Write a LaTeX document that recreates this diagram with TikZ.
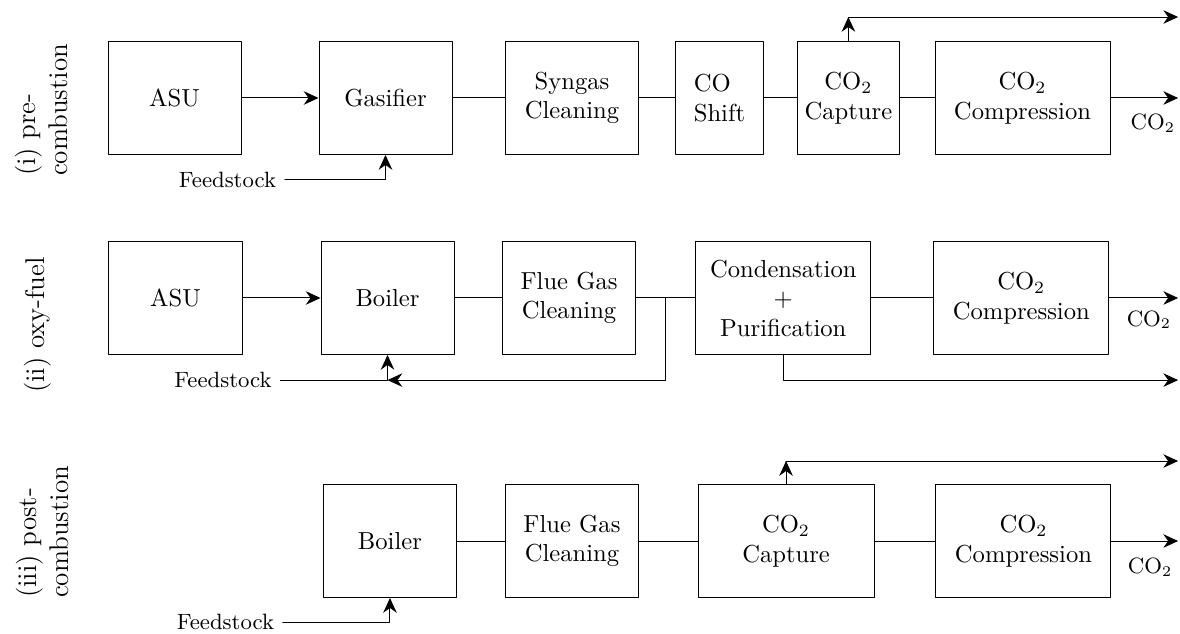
\documentclass[tikz,border=0pt]{standalone}
\usetikzlibrary{arrows.meta}
\begin{document}
\begin{tikzpicture}[line cap=round,line join=round,>={Stealth[length=6pt,width=5.5pt]},
  blk/.style={draw,minimum width=1.9cm,minimum height=1.614cm,align=center,inner sep=2pt},
  feed/.style={font=\small},
  lbl/.style={rotate=90,font=\fontsize{11}{13}\selectfont,align=left}]
\useasboundingbox (0,0) rectangle (16.857,-9.057);
% (i) pre-combustion
\node[lbl] (lab1) at (0.593,-1.571) {(i) pre-\\combustion};
\node[blk] (asu1) at (2.493,-1.4) {ASU};
\node[blk] (gas1) at (5.507,-1.4) {Gasifier};
\node[blk] (syn1) at (8.171,-1.4) {Syngas\\Cleaning};
\node[blk,minimum width=1.257cm,align=left] (shift1) at (10.279,-1.4) {CO\\Shift};
\node[blk,minimum width=1.447cm] (cap1) at (12.12,-1.4) {CO$_2$\\Capture};
\node[blk,minimum width=2.5cm] (comp1) at (14.607,-1.4) {CO$_2$\\Compression};
\node[feed] (fs1) at (3.25,-2.571) {Feedstock};
\node[feed] (co2a) at (16.47,-1.757) {CO$_2$};
\coordinate (out1) at (16.83,-1.4);
\coordinate (top1) at (16.83,-0.243);
\draw[->] (asu1) -- (gas1);
\draw (gas1) -- (syn1) (syn1) -- (shift1) (shift1) -- (cap1) (cap1) -- (comp1);
\draw[->] (comp1) -- (out1);
\draw[->] (fs1.east) -| (gas1.south);
\draw[->] (cap1.north) -- (cap1.north |- top1);
\draw[->] (cap1.north |- top1) -- (top1);
% (ii) oxy-fuel
\node[lbl] (lab2) at (0.543,-4.643) {(ii) oxy-fuel};
\node[blk] (asu2) at (2.507,-4.257) {ASU};
\node[blk] (boil2) at (5.536,-4.257) {Boiler};
\node[blk] (flue2) at (8.13,-4.257) {Flue Gas\\Cleaning};
\node[blk,minimum width=2.5cm] (cond2) at (11.19,-4.257) {Condensation\\$+$\\Purification};
\node[blk,minimum width=2.5cm] (comp2) at (14.59,-4.257) {CO$_2$\\Compression};
\node[feed] (fs2) at (3.186,-5.43) {Feedstock};
\node[feed] (co2b) at (16.414,-4.571) {CO$_2$};
\coordinate (rec2) at (9.514,-5.43);
\coordinate (out2) at (16.83,-4.257);
\coordinate (vent2) at (16.83,-5.43);
\draw[->] (asu2) -- (boil2);
\draw (boil2) -- (flue2) (flue2) -- (cond2) (cond2) -- (comp2);
\draw[->] (comp2) -- (out2);
\draw[->] (fs2.east) -| (boil2.south);
\draw[->] (rec2 |- flue2.east) -- (rec2) -- (rec2 -| boil2.south);
\draw[->] (cond2.south) |- (vent2);
% (iii) post-combustion
\node[lbl] (lab3) at (0.6,-7.6) {(iii) post-\\combustion};
\node[blk] (boil3) at (5.571,-7.729) {Boiler};
\node[blk] (flue3) at (8.171,-7.729) {Flue Gas\\Cleaning};
\node[blk,minimum width=2.514cm] (cap3) at (11.229,-7.729) {CO$_2$\\Capture};
\node[blk,minimum width=2.5cm] (comp3) at (14.621,-7.729) {CO$_2$\\Compression};
\node[feed] (fs3) at (3.221,-8.886) {Feedstock};
\node[feed] (co2c) at (16.43,-8.1) {CO$_2$};
\coordinate (out3) at (16.83,-7.729);
\coordinate (top3) at (16.83,-6.586);
\draw (boil3) -- (flue3) (flue3) -- (cap3) (cap3) -- (comp3);
\draw[->] (comp3) -- (out3);
\draw[->] (fs3.east) -| (boil3.south);
\draw[->] (cap3.north) -- (cap3.north |- top3);
\draw[->] (cap3.north |- top3) -- (top3);
\end{tikzpicture}
\end{document}
